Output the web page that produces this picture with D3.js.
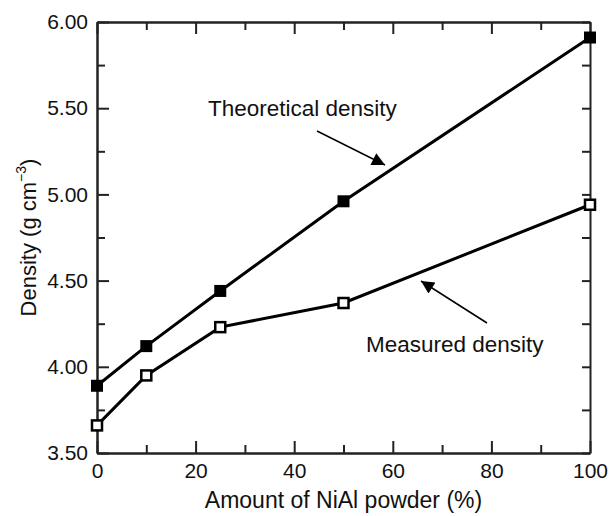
<!DOCTYPE html>
<html>
<head>
<meta charset="utf-8">
<script src="https://cdn.jsdelivr.net/npm/d3@7"></script>
<style>
body { margin: 0; background: #fff; }
text { font-family: "Liberation Sans", Arial, Helvetica, sans-serif; fill: #111; }
</style>
</head>
<body>
<div id="chart"></div>
<script>
var amounts = [0, 10, 25, 50, 100];
var theoretical = [3.89, 4.12, 4.44, 4.96, 5.91];
var measured = [3.66, 3.95, 4.23, 4.37, 4.94];
var yMajorTicks = [3.5, 4.0, 4.5, 5.0, 5.5, 6.0];
var yMinorTicks = [3.75, 4.25, 4.75, 5.25, 5.75];
var xMajorTicks = [0, 20, 40, 60, 80, 100];
var xMinorTicks = [10, 30, 50, 70, 90];

var width = 610;
var height = 516;
var margin = {top: 22, right: 20, bottom: 63, left: 97};

var svg = d3.select("#chart")
    .append("svg")
    .attr("width", width)
    .attr("height", height);

var x = d3.scaleLinear().domain([0, 100]).range([margin.left, width - margin.right]);
var y = d3.scaleLinear().domain([3.5, 6.0]).range([height - margin.bottom, margin.top]);

function styleAxis(g) {
    g.selectAll("path, line").attr("stroke", "#222").attr("stroke-width", 2);
    g.selectAll("text").attr("font-size", 21).attr("fill", "#111");
}

// left axis
svg.append("g")
    .attr("transform", "translate(" + x(0) + ",0)")
    .call(d3.axisLeft(y).tickValues(yMajorTicks).tickFormat(d3.format(".2f")).tickSizeInner(-12).tickSizeOuter(0).tickPadding(9))
    .call(styleAxis);
svg.append("g")
    .attr("transform", "translate(" + x(0) + ",0)")
    .call(d3.axisLeft(y).tickValues(yMinorTicks).tickFormat("").tickSizeInner(-8).tickSizeOuter(0))
    .call(styleAxis);

// right axis
svg.append("g")
    .attr("transform", "translate(" + x(100) + ",0)")
    .call(d3.axisRight(y).tickValues(yMajorTicks.concat(yMinorTicks)).tickFormat("").tickSizeInner(-8).tickSizeOuter(0))
    .call(styleAxis);

// bottom axis
svg.append("g")
    .attr("transform", "translate(0," + y(3.5) + ")")
    .call(d3.axisBottom(x).tickValues(xMajorTicks).tickSizeInner(-12).tickSizeOuter(0).tickPadding(10))
    .call(styleAxis);
svg.append("g")
    .attr("transform", "translate(0," + y(3.5) + ")")
    .call(d3.axisBottom(x).tickValues(xMinorTicks).tickFormat("").tickSizeInner(-8).tickSizeOuter(0))
    .call(styleAxis);

// top axis
svg.append("g")
    .attr("transform", "translate(0," + y(6.0) + ")")
    .call(d3.axisTop(x).tickValues(xMajorTicks).tickFormat("").tickSizeInner(-12).tickSizeOuter(0))
    .call(styleAxis);
svg.append("g")
    .attr("transform", "translate(0," + y(6.0) + ")")
    .call(d3.axisTop(x).tickValues(xMinorTicks).tickFormat("").tickSizeInner(-8).tickSizeOuter(0))
    .call(styleAxis);

// axis titles
svg.append("text")
    .attr("x", (x(0) + x(100)) / 2)
    .attr("y", 508)
    .attr("text-anchor", "middle")
    .attr("font-size", 23)
    .text("Amount of NiAl powder (%)");

var ylab = svg.append("text")
    .attr("transform", "translate(36," + (y(3.5) + y(6.0)) / 2 + ") rotate(-90)")
    .attr("text-anchor", "middle")
    .attr("font-size", 22);
ylab.append("tspan").text("Density (g cm");
ylab.append("tspan").attr("font-size", 14).attr("dy", -10).text("\u22123");
ylab.append("tspan").attr("dy", 10).text(")");

// lines
var line = function (vals) {
    return d3.line()
        .x(function (d, i) { return x(amounts[i]); })
        .y(function (d) { return y(d); })(vals);
};

svg.append("path")
    .attr("d", line(theoretical))
    .attr("fill", "none")
    .attr("stroke", "#000")
    .attr("stroke-width", 3);

svg.append("path")
    .attr("d", line(measured))
    .attr("fill", "none")
    .attr("stroke", "#000")
    .attr("stroke-width", 3);

var ms = 12;
svg.selectAll(".theo")
    .data(theoretical)
    .enter()
    .append("rect")
    .attr("class", "theo")
    .attr("x", function (d, i) { return x(amounts[i]) - ms / 2; })
    .attr("y", function (d) { return y(d) - ms / 2; })
    .attr("width", ms)
    .attr("height", ms)
    .attr("fill", "#000");

svg.selectAll(".meas")
    .data(measured)
    .enter()
    .append("rect")
    .attr("class", "meas")
    .attr("x", function (d, i) { return x(amounts[i]) - (ms - 2) / 2; })
    .attr("y", function (d) { return y(d) - (ms - 2) / 2; })
    .attr("width", ms - 2)
    .attr("height", ms - 2)
    .attr("fill", "#fff")
    .attr("stroke", "#000")
    .attr("stroke-width", 2.5);

// annotations
svg.append("defs").append("marker")
    .attr("id", "head")
    .attr("viewBox", "0 0 10 10")
    .attr("refX", 10)
    .attr("refY", 5)
    .attr("markerWidth", 16)
    .attr("markerHeight", 13)
    .attr("markerUnits", "userSpaceOnUse")
    .attr("orient", "auto")
    .append("path")
    .attr("d", "M0,0 L10,5 L0,10 Z")
    .attr("fill", "#000");

svg.append("text")
    .attr("x", 208)
    .attr("y", 116)
    .attr("font-size", 22.5)
    .text("Theoretical density");

svg.append("line")
    .attr("x1", 317).attr("y1", 131)
    .attr("x2", 385).attr("y2", 165)
    .attr("stroke", "#000")
    .attr("stroke-width", 1.5)
    .attr("marker-end", "url(#head)");

svg.append("text")
    .attr("x", 366)
    .attr("y", 352)
    .attr("font-size", 22.5)
    .text("Measured density");

svg.append("line")
    .attr("x1", 487).attr("y1", 323)
    .attr("x2", 421).attr("y2", 281)
    .attr("stroke", "#000")
    .attr("stroke-width", 1.5)
    .attr("marker-end", "url(#head)");
</script>
</body>
</html>
